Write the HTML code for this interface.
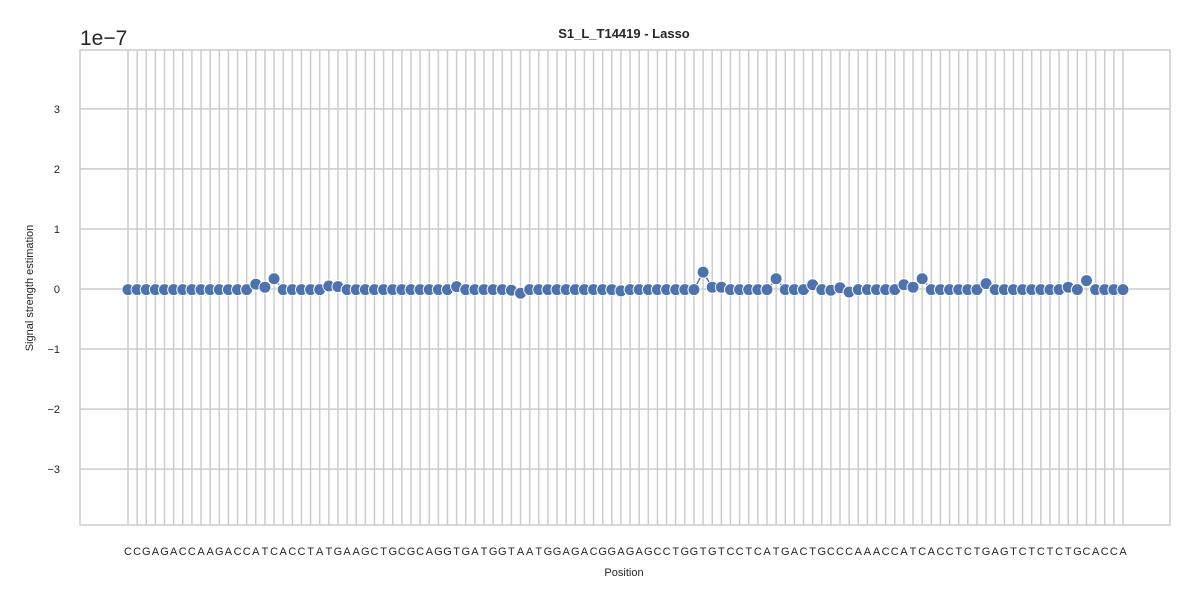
<!DOCTYPE html>
<html><head><meta charset="utf-8"><style>body{margin:0;background:#fff}svg{display:block;font-family:"Liberation Sans",Arial,sans-serif}</style></head>
<body>
<svg id="chart" width="1200" height="600">
<g id="grid"></g><g id="marks"></g><g id="labels"></g>
<text x="624" y="38" text-anchor="middle" font-size="13" font-weight="bold" fill="#262626">S1_L_T14419 - Lasso</text>
<text x="80" y="45" font-size="21" fill="#262626">1e−7</text>
<text x="624" y="576" text-anchor="middle" font-size="11" fill="#262626">Position</text>
<text transform="translate(33,288) rotate(-90)" text-anchor="middle" font-size="11" fill="#262626">Signal strength estimation</text>
</svg>
<script>
const seq = "CCGAGACCAAGACCATCACCTATGAAGCTGCGCAGGTGATGGTAATGGAGACGGAGAGCCTGGTGTCCTCATGACTGCCCAAACCATCACCTCTGAGTCTCTCTGCACCA".split("");
const values = seq.map(()=>-0.01);
const spikes = [[14,0.08],[15,0.03],[16,0.17],[22,0.05],[23,0.04],[36,0.04],[42,-0.02],[43,-0.07],[54,-0.03],[63,0.28],[64,0.03],[65,0.03],[71,0.17],[75,0.07],[77,-0.02],[78,0.02],[79,-0.05],[85,0.07],[86,0.03],[87,0.17],[94,0.09],[103,0.03],[105,0.14]];
spikes.forEach(([i,v])=>values[i]=v);
const yTicks = [-3,-2,-1,0,1,2,3];
const yTickLabels = ["−3","−2","−1","0","1","2","3"];
const L=80,R=1170,T=50,B=525,yMin=-3.93,yMax=3.98;
const x0=128,x1=1123;
const X=i=>x0+(x1-x0)*i/(seq.length-1);
const Y=v=>B-(v-yMin)/(yMax-yMin)*(B-T);
const NS="http://www.w3.org/2000/svg";
function mk(parent,tag,attrs){const e=document.createElementNS(NS,tag);for(const k in attrs)e.setAttribute(k,attrs[k]);document.getElementById(parent).appendChild(e);return e;}
const frame=mk("grid","rect",{x:L,y:T,width:R-L,height:B-T,fill:"none",stroke:"#cccccc","stroke-width":1.5});


yTicks.forEach((t,k)=>{
  const g=mk("grid","line",{x1:L,x2:R,y1:Y(t),y2:Y(t),stroke:"#cccccc","stroke-width":1.5});
  
  
  const lb=mk("labels","text",{x:60,y:Y(t)+4,"text-anchor":"end","font-size":11,fill:"#262626"});
  lb.textContent=yTickLabels[k];
  
  
});
seq.forEach((c,i)=>{
  const g=mk("grid","line",{x1:X(i),x2:X(i),y1:T,y2:B,stroke:"#cccccc","stroke-width":1.5});
  
  
  const lb=mk("labels","text",{x:X(i),y:555,"text-anchor":"middle","font-size":11,fill:"#262626"});
  lb.textContent=c;
  
  
});
const line=mk("marks","polyline",{points:values.map((v,i)=>X(i)+","+Y(v)).join(" "),fill:"none",stroke:"#4c72b0","stroke-width":1.5});


values.forEach((v,i)=>{
  const p=mk("marks","circle",{cx:X(i),cy:Y(v),r:6,fill:"#4c72b0",stroke:"#fff","stroke-width":1});
  
  
});
</script>
</body></html>
